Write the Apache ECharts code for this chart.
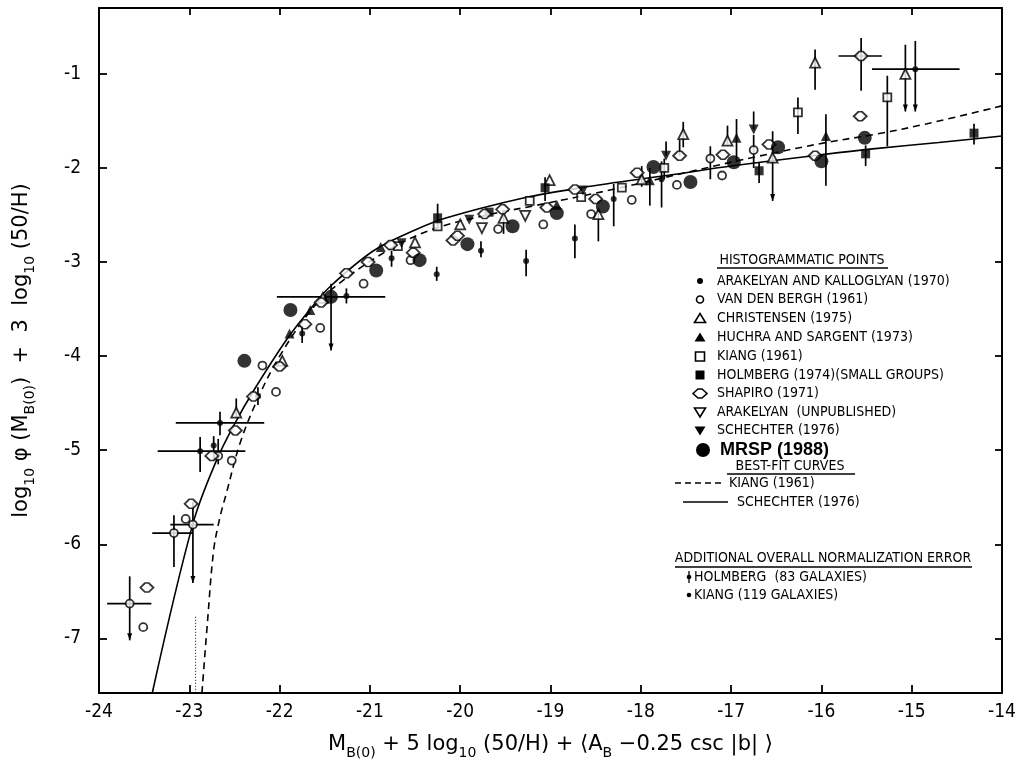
<!DOCTYPE html>
<html>
<head>
<meta charset="utf-8">
<script src="https://cdn.jsdelivr.net/npm/echarts@6/dist/echarts.min.js"></script>
<style>
    html, body { margin: 0; padding: 0; background: #fff; }
    #main { width: 1025px; height: 760px; }
</style>
</head>
<body>
<div id="main"></div>
<script>
var FONT = '"Liberation Sans Narrow", "DejaVu Sans Condensed", "Liberation Sans", sans-serif';
var TITLE_FONT = '"DejaVu Sans", "Liberation Sans", sans-serif';

// tick values
var yTicks = [-7, -6, -5, -4, -3, -2, -1];

// histogrammatic points [M, log phi]
var arakelyanKalloglyan = [
    [-22.88, -5.01], [-22.73, -4.95], [-22.66, -4.71], [-22.24, -4.43], [-21.75, -3.76], [-21.26, -3.36],
    [-20.76, -2.96], [-20.26, -3.13], [-19.77, -2.88], [-19.27, -2.99], [-18.73, -2.75], [-18.30, -2.33],
    [-17.77, -2.12], [-14.96, -0.95]
];
var vanDenBergh = [
    [-23.66, -6.63], [-23.51, -6.88], [-23.17, -5.88], [-23.04, -5.73], [-22.96, -5.79], [-22.68, -5.06],
    [-22.53, -5.11], [-22.19, -4.10], [-22.04, -4.38], [-21.55, -3.70], [-21.07, -3.23], [-20.55, -2.98],
    [-19.58, -2.65], [-19.08, -2.60], [-18.55, -2.49], [-18.10, -2.34], [-17.60, -2.18], [-17.23, -1.90],
    [-17.10, -2.08], [-16.75, -1.81]
];
var christensen = [
    [-22.48, -4.60], [-21.97, -4.05], [-21.52, -3.38], [-20.50, -2.79], [-20.00, -2.60], [-19.52, -2.53],
    [-19.01, -2.13], [-18.47, -2.49], [-17.99, -2.12], [-17.53, -1.64], [-17.04, -1.71], [-16.54, -1.89],
    [-16.07, -0.88], [-15.07, -1.00]
];
var huchraSargent = [
    [-21.89, -3.76], [-21.66, -3.51], [-20.88, -2.84], [-18.93, -2.39], [-17.90, -2.13], [-16.94, -1.68],
    [-15.95, -1.66]
];
var kiang = [
    [-20.69, -2.83], [-20.25, -2.62], [-19.23, -2.35], [-18.66, -2.31], [-18.21, -2.21], [-17.74, -2.00],
    [-16.26, -1.41], [-15.27, -1.25]
];
var holmberg = [
    [-20.25, -2.53], [-19.68, -2.47], [-19.06, -2.21], [-16.69, -2.03], [-15.51, -1.85], [-14.31, -1.63]
];
var shapiro = [
    [-23.47, -6.46], [-22.98, -5.57], [-22.75, -5.06], [-22.49, -4.79], [-22.29, -4.43], [-22.00, -4.11],
    [-21.72, -3.66], [-21.54, -3.43], [-21.26, -3.12], [-21.02, -3.00], [-20.77, -2.82], [-20.52, -2.90],
    [-20.08, -2.77], [-20.03, -2.72], [-19.73, -2.49], [-19.53, -2.44], [-19.04, -2.42], [-18.73, -2.23],
    [-18.50, -2.33], [-18.04, -2.05], [-17.57, -1.87], [-17.09, -1.86], [-16.58, -1.75], [-16.07, -1.87],
    [-15.57, -1.45], [-15.56, -0.81]
];
var arakelyanUnpub = [[-19.76, -2.64], [-19.28, -2.51]];
var schechter = [[-20.65, -2.80], [-19.90, -2.55], [-18.64, -2.24], [-17.72, -1.87], [-16.75, -1.59]];
var mrsp = [
    [-22.39, -4.05], [-21.88, -3.51], [-21.43, -3.37], [-20.93, -3.09], [-20.45, -2.98], [-19.92, -2.81],
    [-19.42, -2.62], [-18.93, -2.48], [-18.42, -2.41], [-17.86, -1.99], [-17.45, -2.15], [-16.97, -1.94],
    [-16.48, -1.78], [-16.00, -1.93], [-15.52, -1.68]
];

// error bars: [x, y, xLow, xHigh, yLow, yHigh, arrowDown]
var errorBars = [
    [-23.66, -6.63, -23.91, -23.42, -7.02, -6.34, 1],
    [-23.17, -5.88, -23.41, -22.96, -6.24, -5.69, 0],
    [-22.96, -5.79, -23.21, -22.73, -6.41, -5.55, 1],
    [-22.68, -5.06, -22.68, -22.68, -5.15, -4.88, 0],
    [-17.23, -1.90, -17.23, -17.23, -2.12, -1.77, 0],
    [-16.75, -1.81, -16.75, -16.75, -2.00, -1.65, 0],
    [-22.88, -5.01, -23.35, -22.38, -5.23, -4.86, 0],
    [-22.73, -4.95, -22.73, -22.73, -5.10, -4.85, 0],
    [-22.66, -4.71, -23.15, -22.17, -4.84, -4.59, 0],
    [-22.24, -4.43, -22.24, -22.24, -4.52, -4.33, 0],
    [-21.75, -3.76, -21.75, -21.75, -3.86, -3.68, 0],
    [-21.26, -3.36, -21.26, -21.26, -3.44, -3.28, 0],
    [-20.76, -2.96, -20.76, -20.76, -3.05, -2.88, 0],
    [-20.26, -3.13, -20.26, -20.26, -3.20, -3.05, 0],
    [-19.77, -2.88, -19.77, -19.77, -2.95, -2.78, 0],
    [-19.27, -2.99, -19.27, -19.27, -3.15, -2.87, 0],
    [-18.73, -2.75, -18.73, -18.73, -2.96, -2.60, 0],
    [-18.30, -2.33, -18.30, -18.30, -2.62, -2.17, 0],
    [-17.77, -2.12, -17.77, -17.77, -2.42, -1.93, 0],
    [-14.96, -0.95, -15.44, -14.47, -1.40, -0.65, 1],
    [-21.43, -3.37, -22.03, -20.83, -3.94, -3.23, 1],
    [-22.48, -4.60, -22.48, -22.48, -4.65, -4.45, 0],
    [-19.52, -2.53, -19.52, -19.52, -2.70, -2.45, 0],
    [-18.47, -2.49, -18.47, -18.47, -2.78, -2.45, 0],
    [-17.99, -2.12, -17.99, -17.99, -2.20, -1.98, 0],
    [-17.53, -1.64, -17.53, -17.53, -1.78, -1.51, 0],
    [-17.04, -1.71, -17.04, -17.04, -1.75, -1.55, 0],
    [-16.54, -1.89, -16.54, -16.54, -2.35, -1.61, 1],
    [-16.07, -0.88, -16.07, -16.07, -1.17, -0.74, 0],
    [-15.07, -1.00, -15.07, -15.07, -1.40, -0.69, 1],
    [-17.90, -2.13, -17.90, -17.90, -2.40, -2.00, 0],
    [-16.94, -1.68, -16.94, -16.94, -1.94, -1.48, 0],
    [-15.95, -1.66, -15.95, -15.95, -2.19, -1.43, 0],
    [-17.74, -2.00, -17.74, -17.74, -2.12, -1.90, 0],
    [-16.26, -1.41, -16.26, -16.26, -1.64, -1.25, 0],
    [-15.27, -1.25, -15.27, -15.27, -1.77, -1.02, 0],
    [-20.25, -2.53, -20.25, -20.25, -2.62, -2.38, 0],
    [-19.06, -2.21, -19.06, -19.06, -2.35, -2.10, 0],
    [-16.69, -2.03, -16.69, -16.69, -2.16, -1.94, 0],
    [-15.51, -1.85, -15.51, -15.51, -1.98, -1.76, 0],
    [-14.31, -1.63, -14.31, -14.31, -1.75, -1.53, 0],
    [-15.56, -0.81, -15.81, -15.33, -1.18, -0.62, 0],
    [-17.57, -1.87, -17.57, -17.57, -1.87, -1.70, 0],
    [-17.72, -1.87, -17.72, -17.72, -1.87, -1.72, 0],
    [-16.75, -1.59, -16.75, -16.75, -1.59, -1.40, 0]
];

// best-fit curves
var kiangCurve = [
    [-22.86, -7.58], [-22.80, -6.84], [-22.73, -6.06], [-22.66, -5.71], [-22.59, -5.46], [-22.44, -4.93],
    [-22.25, -4.47], [-22.03, -4.05], [-21.70, -3.57], [-21.41, -3.28], [-20.81, -2.88], [-20.30, -2.65],
    [-19.70, -2.50], [-19.12, -2.39], [-18.27, -2.22], [-17.46, -2.04], [-16.72, -1.88], [-15.95, -1.73],
    [-15.39, -1.64], [-14.83, -1.53], [-14.00, -1.34]
];
var schechterCurve = [
    [-23.41, -7.58], [-22.96, -5.78], [-22.70, -5.11], [-22.51, -4.74], [-22.29, -4.37], [-21.92, -3.82],
    [-21.66, -3.50], [-21.44, -3.26], [-20.96, -2.88], [-20.50, -2.66], [-20.15, -2.53], [-19.30, -2.32],
    [-18.66, -2.21], [-17.64, -2.07], [-17.00, -1.98], [-16.09, -1.87], [-15.46, -1.80], [-14.70, -1.73],
    [-14.00, -1.66]
];
var kiangCutoff = [[-22.93, -6.77], [-22.93, -7.58]];

var HEX = 'path://M0,5L5,0L9,0L14,5L9,10L5,10Z';
var openStyle = {color: '#fff', borderColor: '#000', borderWidth: 1.8};
var solidStyle = {color: '#000'};

function scatter(name, data, symbol, size, style, rotate) {
    return {
        name: name, type: 'scatter', data: data, symbol: symbol, symbolSize: size,
        symbolRotate: rotate || 0, itemStyle: style, z: 4, silent: true
    };
}

function renderErrorBar(params, api) {
    var x = api.value(0), y = api.value(1);
    var style = {stroke: '#000', lineWidth: 1.7};
    var l = api.coord([api.value(2), y]), r = api.coord([api.value(3), y]);
    var t = api.coord([x, api.value(5)]), b = api.coord([x, api.value(4)]);
    var children = [
        {type: 'line', shape: {x1: l[0], y1: l[1], x2: r[0], y2: r[1]}, style: style},
        {type: 'line', shape: {x1: t[0], y1: t[1], x2: b[0], y2: b[1]}, style: style}
    ];
    if (api.value(6)) {
        children.push({type: 'polygon', shape: {points: [[b[0] - 2.5, b[1] - 7], [b[0] + 2.5, b[1] - 7], [b[0], b[1]]]}, style: {fill: '#000'}});
    }
    return {type: 'group', children: children};
}

// legend drawn by hand so each glyph keeps its own size
function glyph(kind, cx, cy) {
    var o = {fill: '#fff', stroke: '#000', lineWidth: 1.6};
    var f = {fill: '#000'};
    switch (kind) {
        case 'dot': return {type: 'circle', shape: {cx: cx, cy: cy, r: 3}, style: f};
        case 'ring': return {type: 'circle', shape: {cx: cx, cy: cy, r: 3.5}, style: o};
        case 'tri': return {type: 'polygon', shape: {points: [[cx, cy - 5], [cx + 5.5, cy + 4], [cx - 5.5, cy + 4]]}, style: o};
        case 'triF': return {type: 'polygon', shape: {points: [[cx, cy - 5], [cx + 5.5, cy + 4], [cx - 5.5, cy + 4]]}, style: f};
        case 'sq': return {type: 'rect', shape: {x: cx - 4.5, y: cy - 4.5, width: 9, height: 9}, style: o};
        case 'sqF': return {type: 'rect', shape: {x: cx - 4.5, y: cy - 4.5, width: 9, height: 9}, style: f};
        case 'hex': return {type: 'polygon', shape: {points: [[cx - 7, cy], [cx - 2, cy - 4.5], [cx + 2, cy - 4.5], [cx + 7, cy], [cx + 2, cy + 4.5], [cx - 2, cy + 4.5]]}, style: o};
        case 'dtri': return {type: 'polygon', shape: {points: [[cx, cy + 5], [cx + 5.5, cy - 4], [cx - 5.5, cy - 4]]}, style: o};
        case 'dtriF': return {type: 'polygon', shape: {points: [[cx, cy + 5], [cx + 5.5, cy - 4], [cx - 5.5, cy - 4]]}, style: f};
        case 'big': return {type: 'circle', shape: {cx: cx, cy: cy, r: 7}, style: f};
    }
}

function label(text, x, y, font, align) {
    return {type: 'text', x: x, y: y, style: {text: text, font: font, fill: '#000', align: align || 'left', verticalAlign: 'middle'}};
}

function rule(x1, x2, y) {
    return {type: 'line', shape: {x1: x1, y1: y, x2: x2, y2: y}, style: {stroke: '#000', lineWidth: 1.3}};
}

var legendRows = [
    ['dot', 'ARAKELYAN AND KALLOGLYAN (1970)', 281],
    ['ring', 'VAN DEN BERGH (1961)', 299.5],
    ['tri', 'CHRISTENSEN (1975)', 318.5],
    ['triF', 'HUCHRA AND SARGENT (1973)', 337.5],
    ['sq', 'KIANG (1961)', 356.5],
    ['sqF', 'HOLMBERG (1974)(SMALL GROUPS)', 375],
    ['hex', 'SHAPIRO (1971)', 393.5],
    ['dtri', 'ARAKELYAN  (UNPUBLISHED)', 412],
    ['dtriF', 'SCHECHTER (1976)', 430.5]
];
var legendFont = '14px ' + FONT;
var graphics = [
    label('HISTOGRAMMATIC POINTS', 802, 260, legendFont, 'center'),
    rule(717, 888, 268)
];
legendRows.forEach(function (row) {
    graphics.push(glyph(row[0], 700, row[2]));
    graphics.push(label(row[1], 717, row[2], legendFont));
});
graphics.push(glyph('big', 703, 450));
graphics.push(label('MRSP (1988)', 720, 450, 'bold 18px "Liberation Sans", Arial, sans-serif'));
graphics.push(label('BEST-FIT CURVES', 790, 466, legendFont, 'center'));
graphics.push(rule(727, 855, 474));
graphics.push({type: 'line', shape: {x1: 675, y1: 483, x2: 725, y2: 483}, style: {stroke: '#000', lineWidth: 1.6, lineDash: [6, 4]}});
graphics.push(label('KIANG (1961)', 729, 483, legendFont));
graphics.push({type: 'line', shape: {x1: 683, y1: 502, x2: 728, y2: 502}, style: {stroke: '#000', lineWidth: 1.6}});
graphics.push(label('SCHECHTER (1976)', 737, 502, legendFont));
graphics.push(label('ADDITIONAL OVERALL NORMALIZATION ERROR', 823, 558, legendFont, 'center'));
graphics.push(rule(675, 972, 567));
graphics.push({type: 'line', shape: {x1: 689, y1: 571, x2: 689, y2: 583}, style: {stroke: '#000', lineWidth: 1.3}});
graphics.push({type: 'circle', shape: {cx: 689, cy: 577, r: 2.3}, style: {fill: '#000'}});
graphics.push(label('HOLMBERG  (83 GALAXIES)', 694, 577, legendFont));
graphics.push({type: 'circle', shape: {cx: 689, cy: 595, r: 2.3}, style: {fill: '#000'}});
graphics.push(label('KIANG (119 GALAXIES)', 694, 595, legendFont));

var chart = echarts.init(document.getElementById('main'));
var nameRich = {
    n: {fontSize: 21, fontFamily: TITLE_FONT, color: '#000', lineHeight: 30, verticalAlign: 'middle'},
    s: {fontSize: 14, fontFamily: TITLE_FONT, color: '#000', lineHeight: 30, verticalAlign: 'bottom'}
};
var axisLine = {show: true, lineStyle: {color: '#000', width: 2}};
var tick = {inside: true, length: 8, lineStyle: {color: '#000', width: 1.8}};

chart.setOption({
    backgroundColor: '#fff',
    animation: false,
    grid: {left: 99, right: 23, top: 8, bottom: 67, containLabel: false, outerBoundsMode: 'none'},
    xAxis: [{
        type: 'value', min: -24, max: -14, interval: 1,
        axisLine: axisLine, axisTick: tick, splitLine: {show: false},
        axisLabel: {color: '#000', fontSize: 19, fontFamily: FONT, margin: 10},
        name: '{n|M}{s|B(0)}{n| + 5 log}{s|10}{n| (50/H) + ⟨A}{s|B}{n| −0.25 csc |b| ⟩}',
        nameLocation: 'middle', nameGap: 37,
        nameTextStyle: {rich: nameRich}
    }, {
        type: 'value', position: 'top', min: -24, max: -14, interval: 1,
        axisLine: axisLine, axisTick: {inside: true, length: 7, lineStyle: {color: '#000', width: 1.8}},
        axisLabel: {show: false}, splitLine: {show: false}
    }],
    yAxis: [{
        type: 'value', min: -7.58, max: -0.3,
        axisLine: axisLine, splitLine: {show: false},
        axisTick: {inside: true, length: 8, customValues: yTicks, lineStyle: {color: '#000', width: 1.8}},
        axisLabel: {color: '#000', fontSize: 19, fontFamily: FONT, margin: 18, customValues: yTicks},
        name: '{n|log}{s|10}{n| φ (M}{s|B(0)}{n|)  +  3  log}{s|10}{n| (50/H)}',
        nameLocation: 'middle', nameGap: 62, nameRotate: 90,
        nameTextStyle: {rich: nameRich}
    }, {
        type: 'value', position: 'right', min: -7.58, max: -0.3,
        axisLine: axisLine, splitLine: {show: false},
        axisTick: {inside: true, length: 7, customValues: yTicks, lineStyle: {color: '#000', width: 1.8}},
        axisLabel: {show: false}
    }],
    graphic: graphics,
    series: [
        {
            name: 'errors', type: 'custom', data: errorBars, renderItem: renderErrorBar,
            encode: {x: [0, 2, 3], y: [1, 4, 5]}, z: 1, silent: true
        },
        {
            name: 'KIANG (1961) fit', type: 'line', data: kiangCurve, symbol: 'none', smooth: 0.35,
            lineStyle: {color: '#000', width: 1.6, type: [7, 5]}, z: 2, silent: true
        },
        {
            name: 'SCHECHTER (1976) fit', type: 'line', data: schechterCurve, symbol: 'none', smooth: 0.35,
            lineStyle: {color: '#000', width: 1.6}, z: 2, silent: true
        },
        {
            name: 'cutoff', type: 'line', data: kiangCutoff, symbol: 'none',
            lineStyle: {color: '#000', width: 1, type: [1, 2]}, z: 2, silent: true
        },
        scatter('ARAKELYAN AND KALLOGLYAN (1970)', arakelyanKalloglyan, 'circle', 6, solidStyle),
        scatter('VAN DEN BERGH (1961)', vanDenBergh, 'circle', 8, openStyle),
        scatter('CHRISTENSEN (1975)', christensen, 'triangle', 10, openStyle),
        scatter('HUCHRA AND SARGENT (1973)', huchraSargent, 'triangle', 10, solidStyle),
        scatter('KIANG (1961)', kiang, 'rect', 8, openStyle),
        scatter('HOLMBERG (1974)(SMALL GROUPS)', holmberg, 'rect', 9, solidStyle),
        scatter('SHAPIRO (1971)', shapiro, HEX, [13, 9], openStyle),
        scatter('ARAKELYAN (UNPUBLISHED)', arakelyanUnpub, 'triangle', 10, openStyle, 180),
        scatter('SCHECHTER (1976)', schechter, 'triangle', 10, solidStyle, 180),
        scatter('MRSP (1988)', mrsp, 'circle', 14, solidStyle)
    ]
});
</script>
</body>
</html>
